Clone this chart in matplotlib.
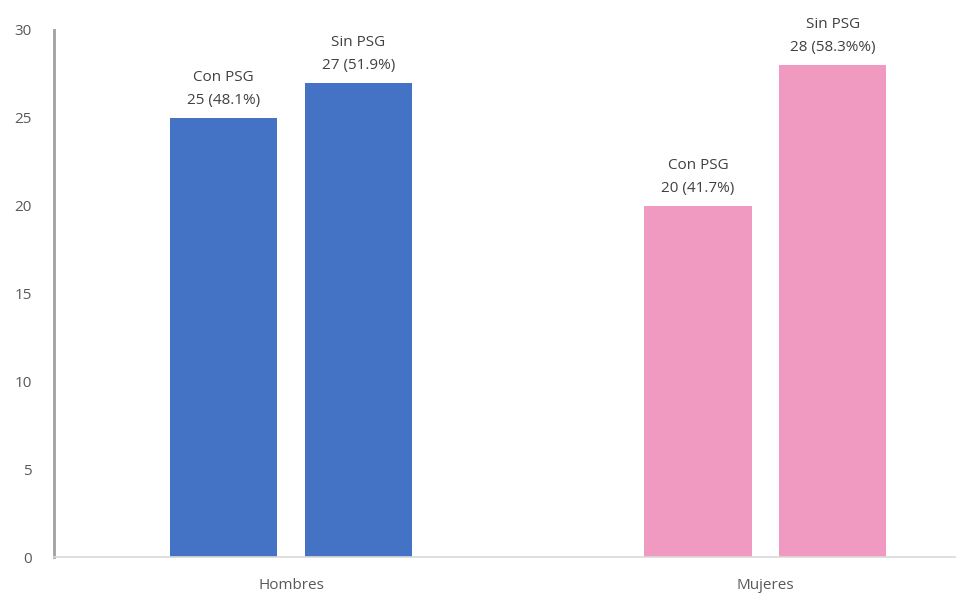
import matplotlib
matplotlib.use("Agg")
import matplotlib.pyplot as plt
import numpy as np

groups = ["Hombres", "Mujeres"]
con_psg = [25, 20]
sin_psg = [27, 28]
con_labels = ["Con PSG\n25 (48.1%)", "Con PSG\n20 (41.7%)"]
sin_labels = ["Sin PSG\n27 (51.9%)", "Sin PSG\n28 (58.3%%)"]
colors = ["#4472C4", "#F09AC1"]

plt.rcParams["font.family"] = ["Open Sans", "DejaVu Sans"]

fig = plt.figure(figsize=(9.58, 5.96), dpi=100)
ax = fig.add_axes([0.0564, 0.0654, 0.9405, 0.8843])

x = np.arange(len(groups))
w = 0.226
off = 0.142
for i in range(len(groups)):
    ax.bar(x[i] - off, con_psg[i], w, color=colors[i])
    ax.bar(x[i] + off, sin_psg[i], w, color=colors[i])
    ax.text(x[i] - off, con_psg[i] + 0.55, con_labels[i], ha="center", va="bottom",
            fontsize=11, color="#404040", linespacing=1.75)
    ax.text(x[i] + off, sin_psg[i] + 0.55, sin_labels[i], ha="center", va="bottom",
            fontsize=11, color="#404040", linespacing=1.75)

ax.set_xlim(-0.5, 1.4)
ax.set_ylim(0, 30)
ax.set_yticks(np.arange(0, 31, 5))
ax.set_xticks(x)
ax.set_xticklabels(groups)
ax.tick_params(axis="both", length=0, labelsize=11, colors="#595959")
ax.tick_params(axis="y", pad=16)
ax.tick_params(axis="x", pad=15)
for s in ["top", "right"]:
    ax.spines[s].set_visible(False)
ax.spines["left"].set_color("#A0A0A0")
ax.spines["left"].set_linewidth(2)
ax.spines["bottom"].set_color("#D9D9D9")
ax.spines["bottom"].set_linewidth(1.2)

plt.savefig("out.png", dpi=100)
plt.close()
